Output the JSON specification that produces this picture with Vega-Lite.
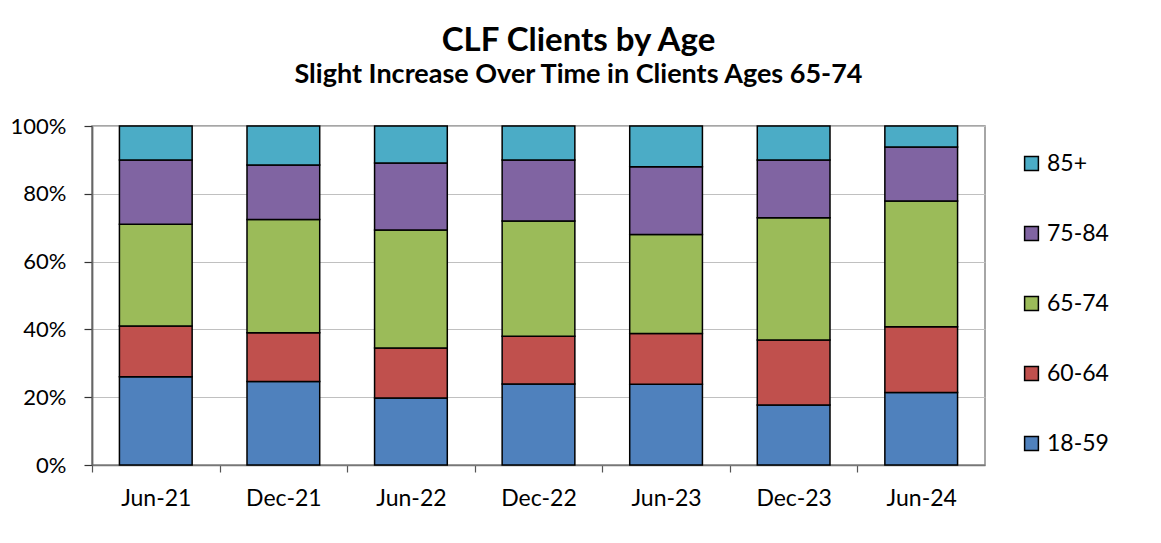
{
  "$schema": "https://vega.github.io/schema/vega-lite/v6.json",
  "autosize": {"type": "none"},
  "width": 893,
  "height": 339,
  "padding": {"left": 92, "top": 126, "right": 176, "bottom": 78},
  "background": "white",
  "title": {
    "text": "CLF Clients by Age",
    "subtitle": "Slight Increase Over Time in Clients Ages 65-74",
    "anchor": "middle",
    "frame": "group",
    "dx": 40,
    "font": "Lato",
    "fontSize": 33,
    "fontWeight": "bold",
    "color": "black",
    "subtitleFont": "Lato",
    "subtitleFontSize": 27,
    "subtitleFontWeight": "bold",
    "subtitleColor": "black",
    "subtitlePadding": 4,
    "offset": 27
  },
  "data": {
    "values": [
      {"period": "Jun-21", "age": "18-59", "pct": 26},
      {"period": "Jun-21", "age": "60-64", "pct": 15},
      {"period": "Jun-21", "age": "65-74", "pct": 30},
      {"period": "Jun-21", "age": "75-84", "pct": 19},
      {"period": "Jun-21", "age": "85+", "pct": 10},
      {"period": "Dec-21", "age": "18-59", "pct": 24.6},
      {"period": "Dec-21", "age": "60-64", "pct": 14.4},
      {"period": "Dec-21", "age": "65-74", "pct": 33.4},
      {"period": "Dec-21", "age": "75-84", "pct": 16.1},
      {"period": "Dec-21", "age": "85+", "pct": 11.5},
      {"period": "Jun-22", "age": "18-59", "pct": 19.8},
      {"period": "Jun-22", "age": "60-64", "pct": 14.7},
      {"period": "Jun-22", "age": "65-74", "pct": 34.8},
      {"period": "Jun-22", "age": "75-84", "pct": 19.8},
      {"period": "Jun-22", "age": "85+", "pct": 10.9},
      {"period": "Dec-22", "age": "18-59", "pct": 23.9},
      {"period": "Dec-22", "age": "60-64", "pct": 14.1},
      {"period": "Dec-22", "age": "65-74", "pct": 34},
      {"period": "Dec-22", "age": "75-84", "pct": 18},
      {"period": "Dec-22", "age": "85+", "pct": 10},
      {"period": "Jun-23", "age": "18-59", "pct": 23.8},
      {"period": "Jun-23", "age": "60-64", "pct": 15},
      {"period": "Jun-23", "age": "65-74", "pct": 29.2},
      {"period": "Jun-23", "age": "75-84", "pct": 20},
      {"period": "Jun-23", "age": "85+", "pct": 12},
      {"period": "Dec-23", "age": "18-59", "pct": 17.7},
      {"period": "Dec-23", "age": "60-64", "pct": 19.2},
      {"period": "Dec-23", "age": "65-74", "pct": 36},
      {"period": "Dec-23", "age": "75-84", "pct": 17.1},
      {"period": "Dec-23", "age": "85+", "pct": 10},
      {"period": "Jun-24", "age": "18-59", "pct": 21.4},
      {"period": "Jun-24", "age": "60-64", "pct": 19.4},
      {"period": "Jun-24", "age": "65-74", "pct": 37.1},
      {"period": "Jun-24", "age": "75-84", "pct": 15.9},
      {"period": "Jun-24", "age": "85+", "pct": 6.2}
    ]
  },
  "mark": {"type": "bar", "stroke": "black", "strokeWidth": 1.5},
  "encoding": {
    "x": {
      "field": "period",
      "type": "nominal",
      "sort": ["Jun-21", "Dec-21", "Jun-22", "Dec-22", "Jun-23", "Dec-23", "Jun-24"],
      "scale": {"paddingInner": 0.43, "paddingOuter": 0.215},
      "axis": {
        "title": null,
        "labelAngle": 0,
        "labelFont": "Lato",
        "labelFontSize": 23,
        "labelColor": "black",
        "labelPadding": 15,
        "tickOffset": -63.8,
        "labelOffset": 63.8,
        "tickSize": 7,
        "tickColor": "#555555",
        "tickWidth": 1.2,
        "domainColor": "#777777",
        "domainWidth": 1.5
      }
    },
    "y": {
      "field": "pct",
      "type": "quantitative",
      "stack": "normalize",
      "scale": {"domain": [0, 1]},
      "axis": {
        "title": null,
        "values": [0, 0.2, 0.4, 0.6, 0.8, 1],
        "format": ".0%",
        "labelFont": "Lato",
        "labelFontSize": 22,
        "labelColor": "black",
        "labelPadding": 18,
        "tickSize": 8,
        "tickColor": "#333333",
        "tickWidth": 1.2,
        "domainColor": "#666666",
        "domainWidth": 1.8,
        "grid": true,
        "gridColor": "#c0c0c0",
        "gridWidth": 1.2
      }
    },
    "color": {
      "field": "age",
      "type": "nominal",
      "scale": {
        "domain": ["85+", "75-84", "65-74", "60-64", "18-59"],
        "range": ["#4BACC6", "#8064A2", "#9BBB59", "#C0504D", "#4F81BD"]
      },
      "legend": {
        "title": null,
        "orient": "none",
        "legendX": 928,
        "legendY": 26,
        "padding": 0,
        "symbolType": "square",
        "symbolSize": 190,
        "symbolStrokeColor": "black",
        "symbolStrokeWidth": 1.5,
        "symbolOpacity": 1,
        "labelFont": "Lato",
        "labelFontSize": 23,
        "labelColor": "black",
        "labelOffset": 4,
        "rowPadding": 46
      }
    },
    "order": {"field": "age", "sort": "ascending"}
  },
  "config": {
    "view": {"stroke": "#898989", "strokeWidth": 1.5}
  }
}
